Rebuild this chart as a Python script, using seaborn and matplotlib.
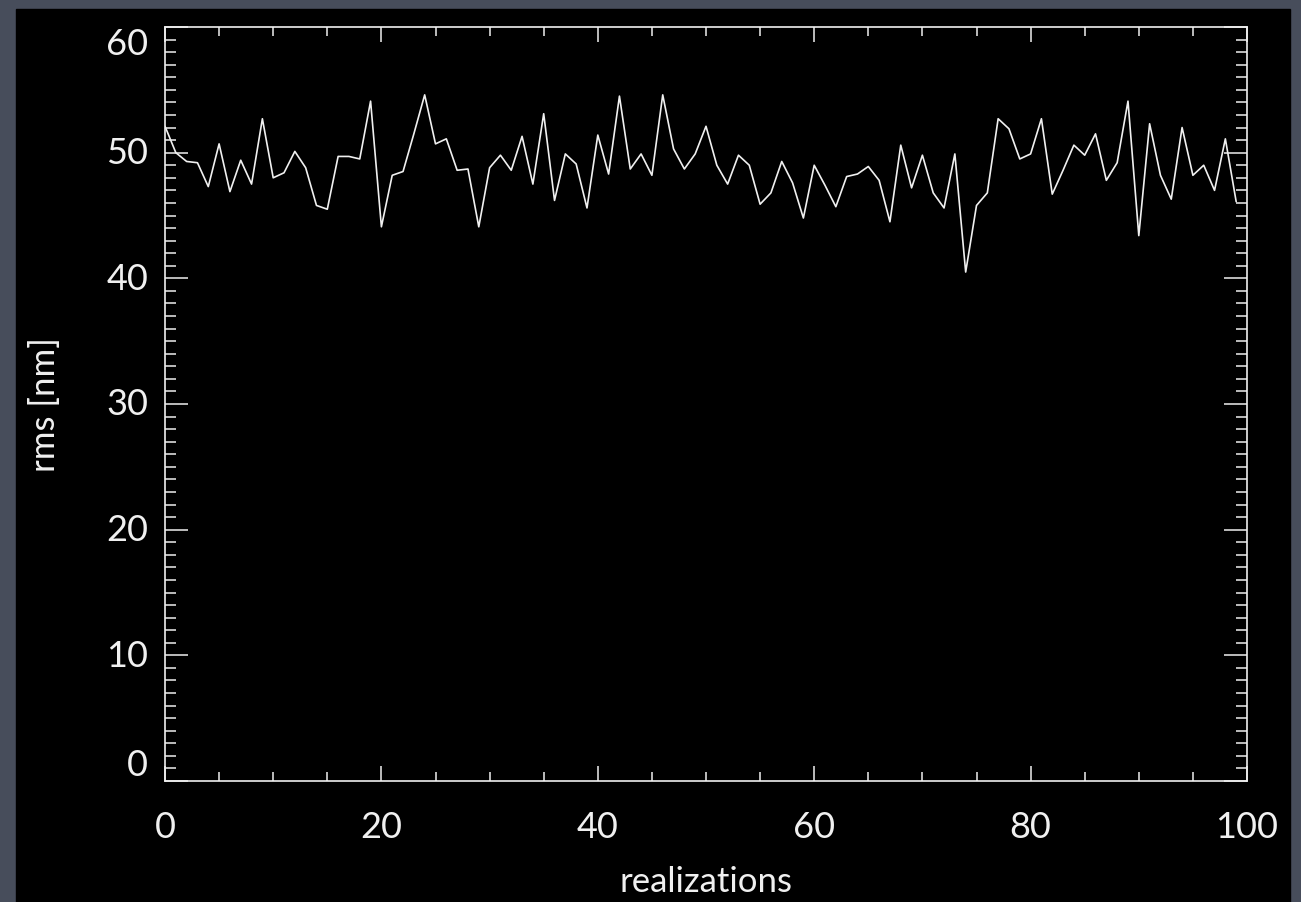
import matplotlib
matplotlib.use('Agg')
import matplotlib.pyplot as plt
import seaborn as sns
import pandas as pd
import numpy as np
from matplotlib.patches import Rectangle
from matplotlib.ticker import MultipleLocator

# values (rms per realization)
realizations = list(range(100))
rms_nm = [
    52.1, 50.0, 49.3, 49.2, 47.3, 50.7, 46.9, 49.4, 47.5, 52.7,
    48.0, 48.4, 50.1, 48.8, 45.8, 45.5, 49.7, 49.7, 49.5, 54.1,
    44.1, 48.2, 48.5, 51.5, 54.6, 50.7, 51.1, 48.6, 48.7, 44.1,
    48.8, 49.8, 48.6, 51.3, 47.5, 53.1, 46.2, 49.9, 49.1, 45.6,
    51.4, 48.3, 54.5, 48.7, 49.9, 48.2, 54.6, 50.3, 48.7, 49.9,
    52.1, 49.0, 47.5, 49.8, 49.0, 45.9, 46.8, 49.3, 47.6, 44.8,
    49.0, 47.4, 45.7, 48.1, 48.3, 48.9, 47.8, 44.5, 50.6, 47.2,
    49.8, 46.8, 45.6, 49.9, 40.5, 45.8, 46.8, 52.7, 51.9, 49.5,
    49.9, 52.7, 46.7, 48.6, 50.6, 49.8, 51.5, 47.8, 49.2, 54.1,
    43.4, 52.3, 48.2, 46.3, 52.0, 48.2, 49.0, 47.0, 51.1, 46.1,
]
x_ticks = [0, 20, 40, 60, 80, 100]
y_ticks = [0, 10, 20, 30, 40, 50, 60]

df = pd.DataFrame({'realizations': realizations, 'rms': rms_nm})

sns.set_theme(style='ticks')
plt.rcParams['font.family'] = ['Lato', 'DejaVu Sans']

fg = '#f0f0f0'
W, H = 1301, 903
fig = plt.figure(figsize=(W / 100, H / 100), dpi=100)
fig.patch.set_facecolor('#474d5b')
# black slide panel behind the plot
panel = Rectangle((16 / W, 0), (1290 - 16) / W, (H - 10) / H,
                  transform=fig.transFigure, color='black', zorder=-5)
fig.add_artist(panel)

ax = fig.add_axes([165 / W, (H - 782) / H, 1082 / W, 754 / H])
ax.set_facecolor('black')
ax.set_zorder(1)

sns.lineplot(data=df, x='realizations', y='rms', ax=ax, color=fg, linewidth=1.2)

ax.set_xlim(0, 100)
ax.set_ylim(0, 60)
ax.set_xticks(x_ticks)
ax.set_yticks(y_ticks)
ax.xaxis.set_minor_locator(MultipleLocator(5))
ax.yaxis.set_minor_locator(MultipleLocator(1))

for s in ax.spines.values():
    s.set_color(fg)
    s.set_linewidth(1.2)

ax.tick_params(axis='both', which='both', direction='in', colors=fg,
               top=True, right=True, width=1.1, labelsize=26)
ax.tick_params(axis='x', which='major', length=11, pad=21)
ax.tick_params(axis='x', which='minor', length=6.5)
ax.tick_params(axis='y', which='major', length=16.5, pad=12)
ax.tick_params(axis='y', which='minor', length=8)

# end labels sit inside the axis range, like the original
ax.set_yticklabels([str(t) for t in y_ticks])
for lab, t in zip(ax.get_yticklabels(), y_ticks):
    lab.set_verticalalignment('top' if t == 60 else ('bottom' if t == 0 else 'center'))

ax.set_xlabel('realizations', fontsize=25, color=fg, va='center')
ax.xaxis.set_label_coords(0.5, -0.133)
ax.set_ylabel('rms [nm]', fontsize=25, color=fg, va='center')
ax.yaxis.set_label_coords(-0.111, 0.5)

fig.savefig('out.png', dpi=100, facecolor=fig.get_facecolor())
